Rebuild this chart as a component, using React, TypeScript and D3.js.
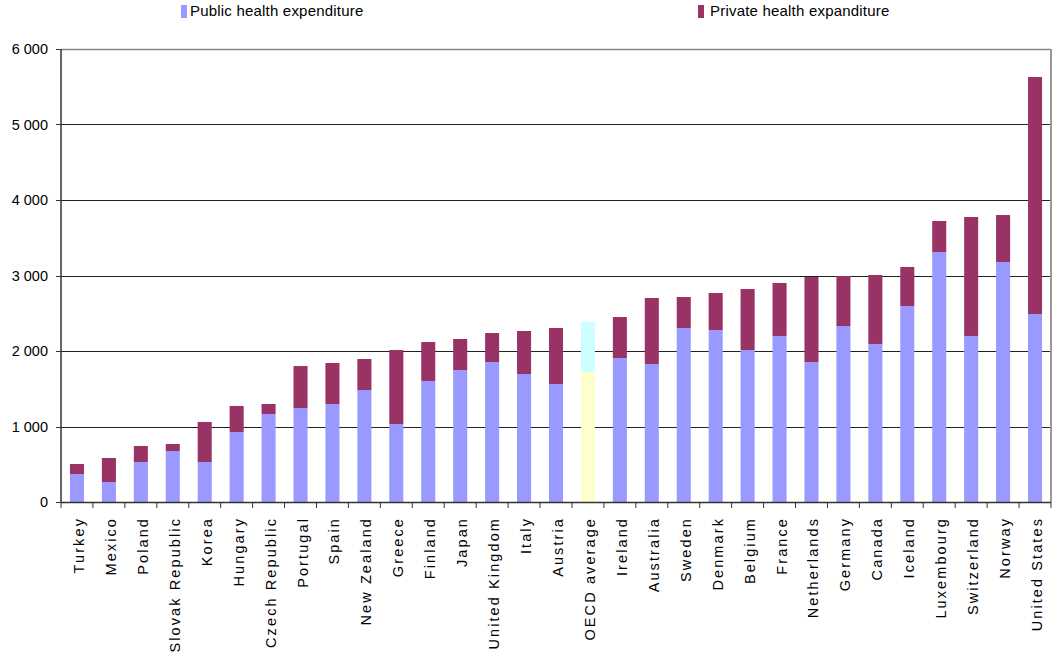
import * as d3 from "d3";

const countries = [
  "Turkey", "Mexico", "Poland", "Slovak Republic", "Korea", "Hungary",
  "Czech Republic", "Portugal", "Spain", "New Zealand", "Greece", "Finland",
  "Japan", "United Kingdom", "Italy", "Austria", "OECD average", "Ireland",
  "Australia", "Sweden", "Denmark", "Belgium", "France", "Netherlands",
  "Germany", "Canada", "Iceland", "Luxembourg", "Switzerland", "Norway",
  "United States",
];

// per capita, USD PPP
const publicSpend = [
  371, 265, 530, 675, 530, 927, 1166, 1245, 1298, 1483, 1033, 1603,
  1748, 1854, 1695, 1563, 1722, 1907, 1828, 2305, 2278, 2013, 2199, 1854,
  2331, 2093, 2596, 3311, 2199, 3179, 2490,
];

const totalSpend = [
  503, 583, 742, 768, 1060, 1272, 1298, 1801, 1841, 1894, 2013, 2119,
  2159, 2238, 2265, 2305, 2384, 2450, 2702, 2715, 2768, 2821, 2901, 2980,
  2993, 3007, 3113, 3722, 3775, 3801, 5629,
];

const yTicks = [0, 1000, 2000, 3000, 4000, 5000, 6000];

const W = 1058;
const H = 658;
const M = { left: 61, right: 7, top: 49, bottom: 156 };
const FONT = "Arial, 'Liberation Sans', sans-serif";

const PUBLIC = "#9999FF";
const PRIVATE = "#993366";

export default function App() {
  const x = d3
    .scaleBand<string>()
    .domain(countries)
    .range([M.left, W - M.right])
    .paddingInner(0.56)
    .paddingOuter(0.28);
  const y = d3.scaleLinear().domain([0, 6000]).range([H - M.bottom, M.top]);
  const fmt = (v: number) => d3.format(",")(v).replace(",", " ");
  const step = x.step();
  const bw = x.bandwidth();
  const [x0, x1] = x.range();
  const y0 = y(0);

  return (
    <div style={{ position: "absolute", left: 0, top: 0 }}>
      <svg width={W} height={H} style={{ display: "block", fontFamily: FONT }}>
        {/* legend */}
        <rect x={181} y={5} width={6} height={13} fill={PUBLIC} />
        <text x={190} y={16} fontSize={15} letterSpacing={0.2} fill="#000">Public health expenditure</text>
        <rect x={698} y={5} width={6} height={13} fill={PRIVATE} />
        <text x={710} y={16} fontSize={15} letterSpacing={0.2} fill="#000">Private health expanditure</text>

        {/* gridlines */}
        {yTicks.filter((t) => t > 0 && t < 6000).map((t) => (
          <line key={t} x1={x0} x2={x1} y1={Math.round(y(t)) + 0.5} y2={Math.round(y(t)) + 0.5} stroke="#222" />
        ))}
        <line x1={x0} x2={x1} y1={y(6000) + 0.5} y2={y(6000) + 0.5} stroke="#888" strokeWidth={1.5} />
        <line x1={x1} x2={x1} y1={y(6000)} y2={y0} stroke="#999" strokeWidth={2} />

        {/* bars */}
        {countries.map((c, i) => {
          const oecd = c === "OECD average";
          return (
            <g key={c}>
              <rect x={x(c)} y={y(publicSpend[i])} width={bw} height={y0 - y(publicSpend[i])} fill={oecd ? "#FFFFCC" : PUBLIC} />
              <rect x={x(c)} y={y(totalSpend[i])} width={bw} height={y(publicSpend[i]) - y(totalSpend[i])} fill={oecd ? "#CCFFFF" : PRIVATE} />
            </g>
          );
        })}

        {/* axes */}
        <line x1={x0} x2={x0} y1={y(6000)} y2={y0} stroke="#333" strokeWidth={1.5} />
        <line x1={x0} x2={x1} y1={y0 + 0.5} y2={y0 + 0.5} stroke="#333" strokeWidth={1.5} />
        {yTicks.map((t) => (
          <g key={t}>
            <line x1={x0 - 5} x2={x0} y1={Math.round(y(t)) + 0.5} y2={Math.round(y(t)) + 0.5} stroke="#333" />
            <text x={48} y={y(t)} dy="0.35em" textAnchor="end" fontSize={14.5} fill="#000">{fmt(t)}</text>
          </g>
        ))}
        {d3.range(countries.length + 1).map((k) => (
          <line key={k} x1={x0 + k * step} x2={x0 + k * step} y1={y0} y2={y0 + 6} stroke="#333" />
        ))}
        {countries.map((c) => {
          const cx = (x(c) ?? 0) + bw / 2 + 2;
          return (
            <text
              key={c}
              transform={`translate(${cx},${y0 + 15}) rotate(-90)`}
              textAnchor="end"
              dominantBaseline="central"
              fontSize={14.5}
              letterSpacing={2.1}
              fill="#000"
            >
              {c}
            </text>
          );
        })}
      </svg>
    </div>
  );
}
